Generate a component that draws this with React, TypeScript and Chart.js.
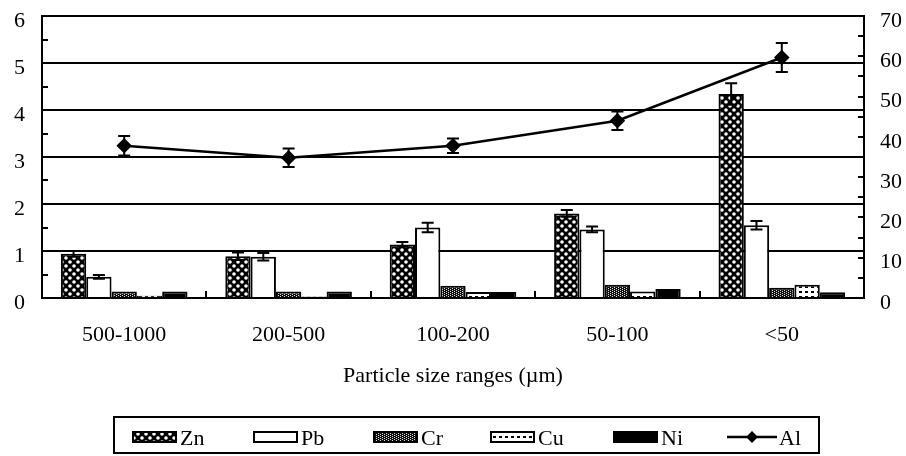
import React, { useEffect, useRef } from 'react';
import { Chart, registerables } from 'chart.js';

Chart.register(...registerables);

// ---------- data ----------
const categories = ['500-1000', '200-500', '100-200', '50-100', '<50'];
const znValues = [0.94, 0.89, 1.14, 1.8, 4.34];
const pbValues = [0.45, 0.88, 1.5, 1.46, 1.55];
const crValues = [0.14, 0.14, 0.26, 0.28, 0.22];
const cuValues = [0.05, 0.03, 0.13, 0.14, 0.28];
const niValues = [0.14, 0.14, 0.13, 0.19, 0.12];
const alValues = [37.8, 34.8, 37.8, 44.0, 59.7];
const znErrors = [0.06, 0.08, 0.05, 0.07, 0.23];
const pbErrors = [0.04, 0.08, 0.1, 0.06, 0.09];
const alErrors = [2.4, 2.3, 1.8, 2.3, 3.6];
const leftAxisMax = 6;
const leftAxisStep = 1;
const rightAxisMax = 70;
const rightAxisStep = 10;
const xTitle = 'Particle size ranges (\u00b5m)';

const FONT = "'Liberation Serif', 'Times New Roman', serif";

function makePattern(w: number, h: number, draw: (g: CanvasRenderingContext2D) => void) {
  const c = document.createElement('canvas');
  c.width = w;
  c.height = h;
  const g = c.getContext('2d')!;
  draw(g);
  return g.createPattern(c, 'repeat')!;
}

function buildPatterns() {
  const zn = makePattern(8, 8, (g) => {
    g.fillStyle = '#000';
    g.fillRect(0, 0, 8, 8);
    g.fillStyle = '#fff';
    g.beginPath();
    g.arc(2, 2, 1.8, 0, Math.PI * 2);
    g.fill();
    g.beginPath();
    g.arc(6, 6, 1.8, 0, Math.PI * 2);
    g.fill();
  });
  const cr = makePattern(4, 4, (g) => {
    g.fillStyle = '#111';
    g.fillRect(0, 0, 4, 4);
    g.fillStyle = '#ddd';
    g.fillRect(0, 0, 1, 1);
    g.fillRect(2, 1, 1, 1);
    g.fillRect(0, 2, 1, 1);
    g.fillRect(2, 3, 1, 1);
  });
  const cu = makePattern(6, 5, (g) => {
    g.fillStyle = '#fff';
    g.fillRect(0, 0, 6, 5);
    g.fillStyle = '#000';
    g.fillRect(1, 1, 3, 2);
  });
  return { zn, cr, cu };
}

const errorBarPlugin = {
  id: 'errorBars',
  afterDatasetsDraw(chart: any) {
    const ctx = chart.ctx;
    chart.data.datasets.forEach((ds: any, di: number) => {
      const errs: number[] | undefined = ds.errors;
      if (!errs) return;
      const meta = chart.getDatasetMeta(di);
      const scale = chart.scales[meta.yAxisID];
      const cap = ds.errorCap || 6;
      meta.data.forEach((el: any, i: number) => {
        const e = errs[i];
        if (!e) return;
        const v = ds.data[i];
        const yTop = scale.getPixelForValue(v + e);
        const yBot = scale.getPixelForValue(v - e);
        const x = el.x;
        ctx.save();
        ctx.strokeStyle = '#000';
        ctx.lineWidth = 2;
        ctx.beginPath();
        ctx.moveTo(x, yTop);
        ctx.lineTo(x, yBot);
        ctx.moveTo(x - cap, yTop);
        ctx.lineTo(x + cap, yTop);
        ctx.moveTo(x - cap, yBot);
        ctx.lineTo(x + cap, yBot);
        ctx.stroke();
        ctx.restore();
      });
    });
  },
};

const innerTicksPlugin = {
  id: 'innerTicks',
  beforeDatasetsDraw(chart: any) {
    const ctx = chart.ctx;
    const { left, right, bottom } = chart.chartArea;
    const y = chart.scales.y;
    const y1 = chart.scales.y1;
    const x = chart.scales.x;
    ctx.save();
    ctx.strokeStyle = '#000';
    ctx.lineWidth = 2;
    ctx.beginPath();
    for (let v = leftAxisStep / 2; v < leftAxisMax; v += leftAxisStep) {
      const py = Math.round(y.getPixelForValue(v));
      ctx.moveTo(left, py);
      ctx.lineTo(left + 6, py);
    }
    for (let v = rightAxisStep / 2; v < rightAxisMax; v += rightAxisStep / 2) {
      const py = Math.round(y1.getPixelForValue(v));
      ctx.moveTo(right - 6, py);
      ctx.lineTo(right, py);
    }
    for (let i = 0; i < categories.length - 1; i++) {
      const px = Math.round((x.getPixelForValue(i) + x.getPixelForValue(i + 1)) / 2);
      ctx.moveTo(px, bottom);
      ctx.lineTo(px, bottom - 7);
    }
    ctx.stroke();
    ctx.restore();
  },
};

const legendSwatchX = [132, 253, 373, 490, 613, 727];

const customLegendPlugin = {
  id: 'customLegend',
  afterDraw(chart: any) {
    const ctx = chart.ctx;
    ctx.save();
    ctx.strokeStyle = '#000';
    ctx.lineWidth = 2;
    ctx.strokeRect(114, 417, 705, 36);
    ctx.font = `22px ${FONT}`;
    ctx.textBaseline = 'alphabetic';
    ctx.textAlign = 'left';
    chart.data.datasets.forEach((ds: any, i: number) => {
      const sx = legendSwatchX[i];
      const sy = 432;
      if (ds.type === 'line') {
        const w = 50;
        ctx.strokeStyle = '#000';
        ctx.lineWidth = 2.5;
        ctx.beginPath();
        ctx.moveTo(sx, sy + 5);
        ctx.lineTo(sx + w, sy + 5);
        ctx.stroke();
        ctx.fillStyle = '#000';
        ctx.beginPath();
        const cx = sx + w / 2;
        const cy = sy + 5;
        ctx.moveTo(cx, cy - 6);
        ctx.lineTo(cx + 6, cy);
        ctx.lineTo(cx, cy + 6);
        ctx.lineTo(cx - 6, cy);
        ctx.closePath();
        ctx.fill();
        ctx.fillStyle = '#000';
        ctx.fillText(ds.label, sx + w + 2, 445);
      } else {
        const w = 45;
        ctx.fillStyle = ds.backgroundColor;
        ctx.fillRect(sx, sy, w, 10);
        ctx.strokeStyle = '#000';
        ctx.lineWidth = 2;
        ctx.strokeRect(sx + 1, sy, w - 2, 10);
        ctx.fillStyle = '#000';
        ctx.fillText(ds.label, sx + w + 3, 445);
      }
    });
    ctx.restore();
  },
};

export default function App() {
  const canvasRef = useRef<HTMLCanvasElement | null>(null);

  useEffect(() => {
    const canvas = canvasRef.current;
    if (!canvas) return;
    Chart.defaults.font.family = FONT;
    Chart.defaults.color = '#000';
    const p = buildPatterns();

    const barCommon = {
      borderColor: '#000',
      borderWidth: 2,
      yAxisID: 'y',
      categoryPercentage: 0.77,
      barPercentage: 1.0,
      order: 1,
    };

    const fitVertical = (s: any) => {
      s.width = 42;
      s.paddingTop = 0;
      s.paddingBottom = 0;
    };

    const chart = new Chart(canvas, {
      type: 'bar',
      data: {
        labels: categories,
        datasets: [
          { ...barCommon, label: 'Zn', data: znValues, backgroundColor: p.zn, errors: znErrors, errorCap: 6 } as any,
          { ...barCommon, label: 'Pb', data: pbValues, backgroundColor: '#fff', errors: pbErrors, errorCap: 6 } as any,
          { ...barCommon, label: 'Cr', data: crValues, backgroundColor: p.cr } as any,
          { ...barCommon, label: 'Cu', data: cuValues, backgroundColor: p.cu } as any,
          { ...barCommon, label: 'Ni', data: niValues, backgroundColor: '#000' } as any,
          {
            type: 'line',
            label: 'Al',
            data: alValues,
            yAxisID: 'y1',
            borderColor: '#000',
            borderWidth: 2.5,
            backgroundColor: '#000',
            pointStyle: 'rectRot',
            pointRadius: 6,
            pointBackgroundColor: '#000',
            pointBorderColor: '#000',
            tension: 0,
            order: 0,
            errors: alErrors,
            errorCap: 6,
          } as any,
        ],
      },
      options: {
        responsive: false,
        animation: false,
        devicePixelRatio: 1,
        layout: { padding: { top: 16, left: 0, right: 0, bottom: 56 } },
        plugins: {
          legend: { display: false },
          tooltip: { enabled: false },
        },
        scales: {
          x: {
            type: 'category',
            offset: true,
            grid: { display: false, drawTicks: false },
            border: { display: true, color: '#000', width: 2 },
            ticks: { font: { size: 22, family: FONT }, color: '#000', padding: 24, maxRotation: 0, autoSkip: false },
            title: {
              display: true,
              text: xTitle,
              font: { size: 22, family: FONT },
              color: '#000',
              padding: { top: 4, bottom: 11 },
            },
            afterFit: (s: any) => {
              s.height = 102;
              s.paddingLeft = 0;
              s.paddingRight = 0;
            },
          },
          y: {
            position: 'left',
            min: 0,
            max: leftAxisMax,
            ticks: { stepSize: leftAxisStep, font: { size: 22, family: FONT }, color: '#000', padding: 17, labelOffset: 5 },
            grid: { display: true, color: '#000', lineWidth: 2, drawTicks: false },
            border: { display: true, color: '#000', width: 2 },
            afterFit: fitVertical,
          },
          y1: {
            position: 'right',
            min: 0,
            max: rightAxisMax,
            ticks: { stepSize: rightAxisStep, font: { size: 22, family: FONT }, color: '#000', padding: 16, labelOffset: 5 },
            grid: { display: false, drawTicks: false },
            border: { display: true, color: '#000', width: 2 },
            afterFit: fitVertical,
          },
        },
      } as any,
      plugins: [innerTicksPlugin, errorBarPlugin, customLegendPlugin],
    });

    return () => {
      chart.destroy();
    };
  }, []);

  return (
    <div style={{ position: 'fixed', left: 0, top: 0, width: 906, height: 456, background: '#fff' }}>
      <canvas ref={canvasRef} width={906} height={456} style={{ display: 'block', width: 906, height: 456 }} />
    </div>
  );
}
